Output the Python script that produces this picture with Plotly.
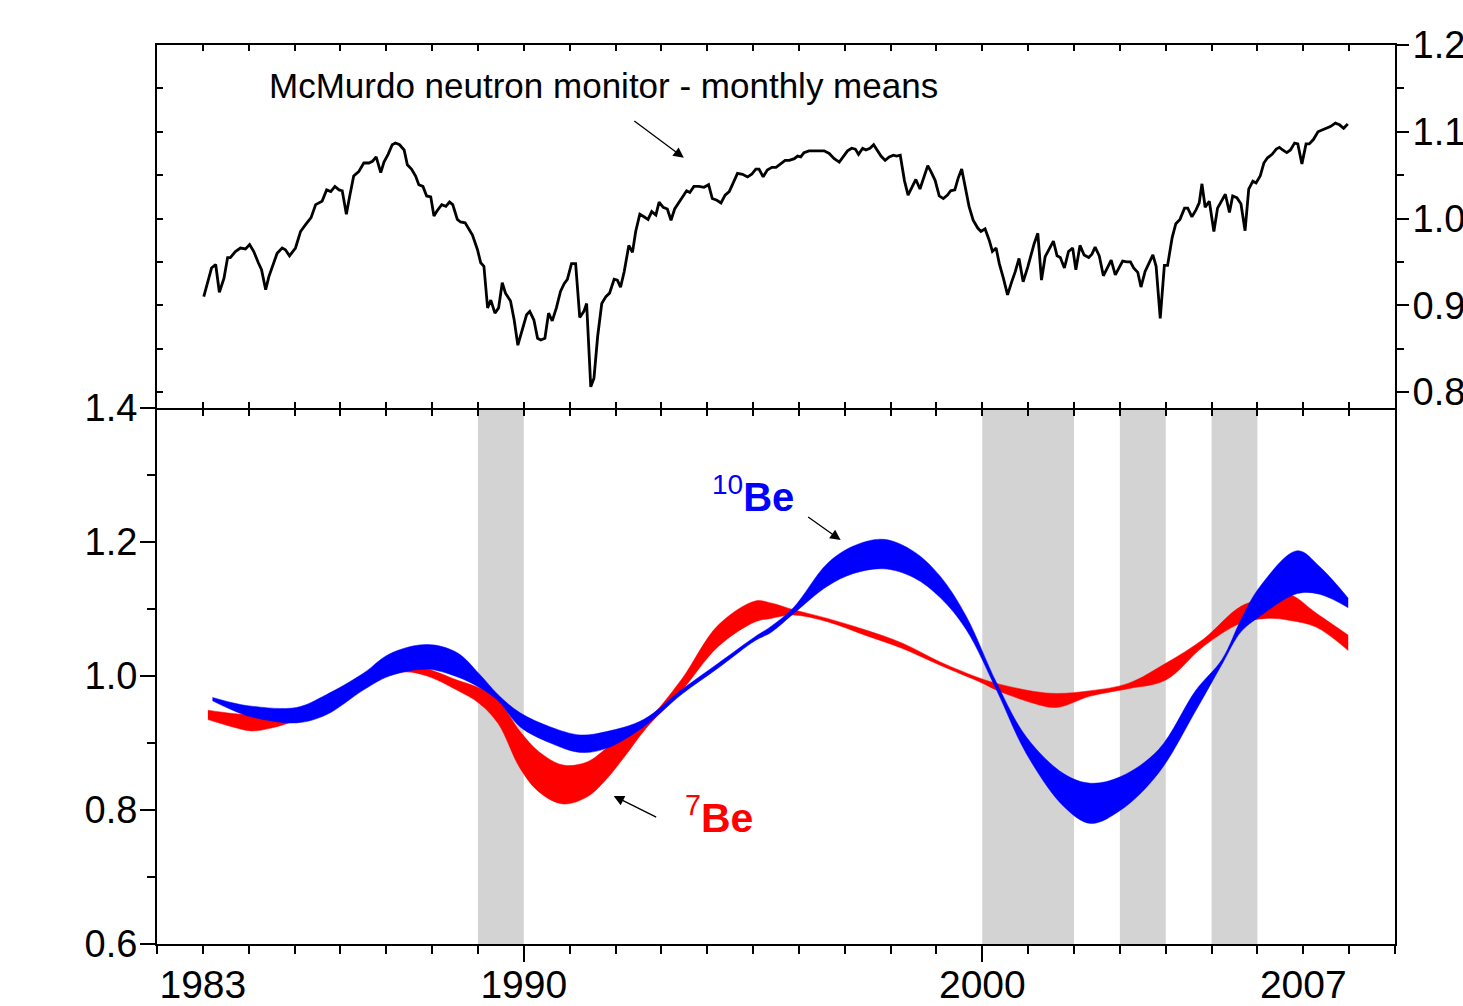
import plotly.graph_objects as go

FONT = "Liberation Sans, Arial, sans-serif"

# ---------------- McMurdo neutron monitor (monthly means, top panel) ----------------
NM_YEAR = [
    1983.02, 1983.19, 1983.28, 1983.36, 1983.46, 1983.54, 1983.60, 1983.71, 1983.82, 1983.93,
    1984.02, 1984.11, 1984.21, 1984.28, 1984.37, 1984.44, 1984.62, 1984.73, 1984.80, 1984.89,
    1985.02, 1985.13, 1985.24, 1985.36, 1985.46, 1985.60, 1985.70, 1985.79, 1985.88, 1985.97,
    1986.04, 1986.13, 1986.20, 1986.29, 1986.40, 1986.51, 1986.62, 1986.70, 1986.78, 1986.88,
    1986.95, 1987.04, 1987.13, 1987.20, 1987.29, 1987.39, 1987.46, 1987.55, 1987.64, 1987.71,
    1987.80, 1987.88, 1987.97, 1988.04, 1988.11, 1988.21, 1988.30, 1988.38, 1988.45, 1988.55,
    1988.62, 1988.72, 1988.88, 1988.99, 1989.06, 1989.13, 1989.21, 1989.28, 1989.37, 1989.45,
    1989.53, 1989.60, 1989.71, 1989.79, 1989.87, 1989.97, 1990.06, 1990.13, 1990.22, 1990.30,
    1990.37, 1990.46, 1990.54, 1990.62, 1990.71, 1990.80, 1990.88, 1990.95, 1991.04, 1991.13,
    1991.22, 1991.31, 1991.37, 1991.46, 1991.53, 1991.61, 1991.70, 1991.79, 1991.87, 1991.97,
    1992.04, 1992.11, 1992.19, 1992.29, 1992.37, 1992.44, 1992.53, 1992.62, 1992.71, 1992.79,
    1992.88, 1992.95, 1993.04, 1993.13, 1993.21, 1993.29, 1993.39, 1993.47, 1993.55, 1993.62,
    1993.71, 1993.82, 1993.93, 1994.03, 1994.11, 1994.21, 1994.30, 1994.39, 1994.48, 1994.55,
    1994.66, 1994.77, 1994.88, 1994.97, 1995.06, 1995.13, 1995.22, 1995.31, 1995.41, 1995.50,
    1995.61, 1995.70, 1995.79, 1995.90, 1995.97, 1996.04, 1996.11, 1996.22, 1996.33, 1996.44,
    1996.55, 1996.66, 1996.77, 1996.88, 1996.96, 1997.06, 1997.15, 1997.23, 1997.30, 1997.39,
    1997.46, 1997.55, 1997.63, 1997.72, 1997.79, 1997.88, 1997.97, 1998.06, 1998.13, 1998.21,
    1998.30, 1998.38, 1998.46, 1998.55, 1998.64, 1998.72, 1998.81, 1998.88, 1998.97, 1999.06,
    1999.15, 1999.24, 1999.31, 1999.40, 1999.47, 1999.55, 1999.63, 1999.71, 1999.80, 1999.90,
    1999.97, 2000.06, 2000.15, 2000.22, 2000.30, 2000.37, 2000.46, 2000.55, 2000.64, 2000.72,
    2000.80, 2000.89, 2000.99, 2001.06, 2001.13, 2001.21, 2001.29, 2001.37, 2001.46, 2001.55,
    2001.63, 2001.70, 2001.79, 2001.88, 2001.97, 2002.04, 2002.13, 2002.22, 2002.32, 2002.39,
    2002.46, 2002.55, 2002.64, 2002.72, 2002.81, 2002.90, 2002.99, 2003.06, 2003.15, 2003.23,
    2003.30, 2003.39, 2003.46, 2003.55, 2003.63, 2003.72, 2003.79, 2003.88, 2003.97, 2004.04,
    2004.14, 2004.22, 2004.31, 2004.41, 2004.48, 2004.57, 2004.66, 2004.73, 2004.79, 2004.86,
    2004.95, 2005.05, 2005.13, 2005.23, 2005.30, 2005.39, 2005.46, 2005.55, 2005.64, 2005.73,
    2005.81, 2005.90, 2005.97, 2006.06, 2006.14, 2006.22, 2006.32, 2006.41, 2006.48, 2006.55,
    2006.64, 2006.72, 2006.81, 2006.88, 2006.97, 2007.06, 2007.13, 2007.22, 2007.32, 2007.41,
    2007.50, 2007.59, 2007.70, 2007.79, 2007.88, 2007.97,
]
NM_VALUE = [
    0.910, 0.943, 0.947, 0.915, 0.931, 0.955, 0.955, 0.962, 0.966, 0.965,
    0.970, 0.962, 0.949, 0.941, 0.918, 0.933, 0.960, 0.966, 0.964, 0.957,
    0.966, 0.985, 0.993, 1.001, 1.016, 1.020, 1.033, 1.031, 1.037, 1.033,
    1.032, 1.005, 1.025, 1.049, 1.054, 1.064, 1.064, 1.066, 1.071, 1.053,
    1.065, 1.074, 1.085, 1.087, 1.085, 1.079, 1.062, 1.057, 1.049, 1.039,
    1.037, 1.026, 1.025, 1.003, 1.009, 1.016, 1.014, 1.019, 1.016, 0.999,
    0.996, 0.995, 0.981, 0.964, 0.949, 0.945, 0.897, 0.906, 0.891, 0.897,
    0.926, 0.914, 0.905, 0.883, 0.854, 0.871, 0.889, 0.893, 0.883, 0.862,
    0.860, 0.862, 0.891, 0.882, 0.897, 0.916, 0.925, 0.930, 0.948, 0.948,
    0.886, 0.893, 0.902, 0.806, 0.816, 0.864, 0.902, 0.910, 0.914, 0.930,
    0.929, 0.921, 0.939, 0.969, 0.961, 0.985, 1.005, 1.002, 0.999, 1.008,
    1.004, 1.019, 1.013, 1.011, 0.998, 1.011, 1.019, 1.025, 1.032, 1.030,
    1.037, 1.037, 1.036, 1.039, 1.023, 1.021, 1.018, 1.027, 1.031, 1.039,
    1.052, 1.051, 1.048, 1.051, 1.057, 1.057, 1.048, 1.056, 1.059, 1.059,
    1.064, 1.067, 1.067, 1.069, 1.072, 1.071, 1.076, 1.078, 1.078, 1.078,
    1.078, 1.075, 1.069, 1.065, 1.071, 1.078, 1.081, 1.080, 1.074, 1.081,
    1.079, 1.081, 1.085, 1.078, 1.072, 1.067, 1.071, 1.073, 1.072, 1.073,
    1.044, 1.027, 1.035, 1.045, 1.034, 1.048, 1.061, 1.054, 1.044, 1.026,
    1.023, 1.027, 1.032, 1.033, 1.046, 1.057, 1.035, 1.014, 0.998, 0.989,
    0.985, 0.988, 0.975, 0.962, 0.966, 0.948, 0.931, 0.912, 0.927, 0.939,
    0.954, 0.927, 0.944, 0.958, 0.971, 0.983, 0.929, 0.956, 0.966, 0.974,
    0.957, 0.955, 0.943, 0.962, 0.966, 0.941, 0.969, 0.958, 0.955, 0.959,
    0.967, 0.957, 0.934, 0.943, 0.952, 0.935, 0.944, 0.951, 0.950, 0.950,
    0.943, 0.938, 0.921, 0.939, 0.948, 0.958, 0.945, 0.885, 0.946, 0.946,
    0.978, 0.994, 0.999, 1.012, 1.012, 1.002, 1.010, 1.018, 1.040, 1.013,
    1.020, 0.985, 1.012, 1.021, 1.028, 1.007, 1.026, 1.024, 1.017, 0.986,
    1.034, 1.043, 1.041, 1.049, 1.064, 1.070, 1.074, 1.080, 1.082, 1.079,
    1.076, 1.079, 1.087, 1.086, 1.063, 1.086, 1.086, 1.091, 1.100, 1.102,
    1.104, 1.106, 1.110, 1.108, 1.104, 1.109,
]

# ---------------- 7Be band (red, bottom panel) ----------------
BE7_YEAR = [1983.11, 1983.65, 1984.06, 1984.47, 1984.88, 1985.28, 1986.10, 1986.75, 1987.40, 1987.89,
            1988.54, 1989.03, 1989.44, 1989.92, 1990.33, 1990.86, 1991.39, 1991.80, 1992.20, 1992.69,
            1993.43, 1994.24, 1995.05, 1995.39, 1995.88, 1996.62, 1997.44, 1998.26, 1999.08, 1999.98,
            2000.31, 2001.13, 2001.62, 2002.36, 2003.18, 2004.00, 2004.82, 2005.64, 2006.21, 2006.71,
            2007.28, 2007.98]
BE7_UPPER = [0.949, 0.944, 0.942, 0.940, 0.942, 0.948, 0.984, 1.003, 1.011, 1.010,
             0.994, 0.982, 0.964, 0.917, 0.887, 0.867, 0.872, 0.892, 0.913, 0.934,
             0.994, 1.076, 1.112, 1.109, 1.099, 1.086, 1.069, 1.049, 1.021, 0.996,
             0.989, 0.977, 0.974, 0.978, 0.989, 1.019, 1.055, 1.104, 1.116, 1.121,
             1.094, 1.061]
BE7_LOWER = [0.935, 0.924, 0.918, 0.922, 0.930, 0.939, 0.972, 0.994, 1.006, 1.000,
             0.979, 0.959, 0.929, 0.862, 0.827, 0.809, 0.820, 0.846, 0.880, 0.924,
             0.977, 1.044, 1.081, 1.086, 1.091, 1.081, 1.061, 1.041, 1.016, 0.990,
             0.979, 0.959, 0.953, 0.970, 0.981, 0.994, 1.044, 1.079, 1.086, 1.083,
             1.073, 1.038]

# ---------------- 10Be band (blue, bottom panel) ----------------
BE10_YEAR = [1983.21, 1983.65, 1984.06, 1985.04, 1985.69, 1986.50, 1987.07, 1987.89, 1988.54, 1989.03,
             1989.44, 1989.92, 1990.58, 1991.23, 1991.80, 1992.61, 1993.43, 1994.24, 1995.05, 1995.39,
             1995.88, 1996.62, 1997.19, 1997.85, 1998.50, 1999.08, 1999.65, 2000.31, 2000.96, 2001.78,
             2002.36, 2003.02, 2003.84, 2004.66, 2005.23, 2005.64, 2006.05, 2006.87, 2007.36, 2007.98]
BE10_UPPER = [0.968, 0.960, 0.955, 0.953, 0.972, 1.004, 1.033, 1.047, 1.035, 1.003,
              0.972, 0.945, 0.924, 0.912, 0.917, 0.935, 0.979, 1.019, 1.059, 1.074,
              1.102, 1.168, 1.194, 1.204, 1.186, 1.149, 1.089, 0.990, 0.909, 0.854,
              0.840, 0.850, 0.890, 0.979, 1.025, 1.084, 1.133, 1.187, 1.163, 1.116]
BE10_LOWER = [0.963, 0.949, 0.939, 0.930, 0.942, 0.979, 1.000, 1.010, 0.999, 0.983,
              0.963, 0.924, 0.900, 0.886, 0.892, 0.924, 0.972, 1.012, 1.053, 1.065,
              1.093, 1.134, 1.153, 1.160, 1.147, 1.117, 1.069, 0.979, 0.884, 0.805,
              0.780, 0.800, 0.855, 0.949, 1.018, 1.066, 1.089, 1.123, 1.122, 1.102]

# ---------------- grey periods ----------------
GREY_START = [1989, 2000, 2003, 2005]
GREY_END = [1990, 2002, 2004, 2006]

X_LABEL_YEARS = [1983, 1990, 2000, 2007]
X_LONG_TICKS = [1990, 2000]

SPLIT = 0.5962  # boundary between the two panels (paper fraction)

fig = go.Figure()

RED = "#ff0000"
BLUE = "#0000ff"

fig.add_trace(go.Scatter(x=BE7_YEAR, y=BE7_LOWER, mode="lines",
                         line=dict(color=RED, width=0.5, shape="spline"),
                         xaxis="x", yaxis="y", showlegend=False, hoverinfo="skip"))
fig.add_trace(go.Scatter(x=BE7_YEAR, y=BE7_UPPER, mode="lines", fill="tonexty", fillcolor=RED,
                         line=dict(color=RED, width=0.5, shape="spline"),
                         xaxis="x", yaxis="y", showlegend=False, hoverinfo="skip"))
fig.add_trace(go.Scatter(x=BE10_YEAR, y=BE10_LOWER, mode="lines",
                         line=dict(color=BLUE, width=0.5, shape="spline"),
                         xaxis="x", yaxis="y", showlegend=False, hoverinfo="skip"))
fig.add_trace(go.Scatter(x=BE10_YEAR, y=BE10_UPPER, mode="lines", fill="tonexty", fillcolor=BLUE,
                         line=dict(color=BLUE, width=0.5, shape="spline"),
                         xaxis="x", yaxis="y", showlegend=False, hoverinfo="skip"))
fig.add_trace(go.Scatter(x=NM_YEAR, y=NM_VALUE, mode="lines",
                         line=dict(color="black", width=2.8),
                         xaxis="x2", yaxis="y2", showlegend=False))

# empty traces so that the decorative overlay axes get their own subplots
for xa, ya in [("x3", "y"), ("x4", "y"), ("x2", "y3")]:
    fig.add_trace(go.Scatter(x=[None], y=[None], mode="markers", xaxis=xa, yaxis=ya,
                             showlegend=False, hoverinfo="skip"))

shapes = []
for s, e in zip(GREY_START, GREY_END):
    shapes.append(dict(type="rect", xref="x", yref="y domain", x0=s, x1=e, y0=0, y1=1,
                       fillcolor="#d3d3d3", line=dict(width=0), layer="below"))

XR = [1982, 2009]
Y2R = [0.7816, 1.2]
axis_common = dict(showgrid=False, zeroline=False, linecolor="black", tickcolor="black",
                   automargin=False)

fig.update_layout(
    width=1463, height=1006,
    margin=dict(l=157, r=68, t=45, b=62),
    paper_bgcolor="white", plot_bgcolor="rgba(0,0,0,0)",
    font=dict(family=FONT, color="black", size=38),
    showlegend=False,
    shapes=shapes,
    xaxis=dict(domain=[0, 1], range=XR, anchor="y", tickmode="array",
               tickvals=X_LABEL_YEARS, ticktext=[str(v) for v in X_LABEL_YEARS],
               ticks="outside", ticklen=8, tickwidth=2, showline=True, linewidth=2,
               ticklabelstandoff=-3,
               tickfont=dict(size=39, family=FONT, color="black"),
               minor=dict(ticks="outside", ticklen=8, tickwidth=2, tickcolor="black",
                          tick0=1982, dtick=1, showgrid=False),
               **axis_common),
    xaxis3=dict(overlaying="x", anchor="y", side="bottom", range=XR,
                tickmode="array", tickvals=X_LONG_TICKS, ticks="outside", ticklen=17,
                tickwidth=2, showticklabels=False, showline=False, **axis_common),
    xaxis4=dict(overlaying="x", anchor="y", side="top", range=XR,
                tickmode="linear", tick0=1982, dtick=1, ticks="inside", ticklen=8,
                tickwidth=2, showticklabels=False, showline=False, **axis_common),
    xaxis2=dict(domain=[0, 1], anchor="y2", range=XR, tickmode="linear",
                tick0=1982, dtick=1, ticks="inside", ticklen=6, tickwidth=2, mirror="ticks",
                showticklabels=False, showline=True, linewidth=2, **axis_common),
    yaxis=dict(domain=[0, SPLIT], anchor="x", range=[0.6, 1.4], tickmode="linear",
               tick0=0.6, dtick=0.2, tickformat=".1f", ticks="outside", ticklen=15,
               tickwidth=2, showline=True, linewidth=2, mirror=True,
               ticklabelstandoff=-5,
               tickfont=dict(size=38, family=FONT, color="black"),
               minor=dict(ticks="outside", ticklen=8, tickwidth=2, tickcolor="black",
                          tick0=0.6, dtick=0.1, showgrid=False),
               **axis_common),
    yaxis2=dict(domain=[SPLIT, 1], anchor="x2", side="right", range=Y2R,
                tickmode="linear", tick0=0.8, dtick=0.1, tickformat=".1f", ticks="outside",
                ticklen=12, tickwidth=2, showline=True, linewidth=2,
                ticklabelstandoff=-4,
                tickfont=dict(size=38, family=FONT, color="black"),
                minor=dict(ticks="outside", ticklen=7, tickwidth=2, tickcolor="black",
                           tick0=0.8, dtick=0.05, showgrid=False),
                **axis_common),
    yaxis3=dict(domain=[SPLIT, 1], overlaying="y2", anchor="x2", side="left", range=Y2R,
                tickmode="linear", tick0=0.8, dtick=0.05, ticks="inside", ticklen=6,
                tickwidth=2, showticklabels=False, showline=True, linewidth=2, **axis_common),
)

annotations = [
    dict(text="McMurdo neutron monitor - monthly means", xref="x2", yref="y2",
         x=1984.40, y=1.153, xanchor="left", yanchor="middle", showarrow=False,
         font=dict(size=35, family=FONT, color="black")),
    dict(text="", xref="x2", yref="y2", x=1993.49, y=1.070, ax=-51, ay=-38,
         showarrow=True, arrowhead=2, arrowsize=1.6, arrowwidth=1.3, arrowcolor="black"),
    dict(text="<sup>10</sup><b>Be</b>", xref="x", yref="y", x=1994.05, y=1.272,
         xanchor="left", yanchor="middle", showarrow=False,
         font=dict(size=40, family=FONT, color=BLUE)),
    dict(text="", xref="x", yref="y", x=1996.91, y=1.203, ax=-34, ay=-24,
         showarrow=True, arrowhead=2, arrowsize=1.6, arrowwidth=1.3, arrowcolor="black"),
    dict(text="<sup>7</sup><b>Be</b>", xref="x", yref="y", x=1993.47, y=0.793,
         xanchor="left", yanchor="middle", showarrow=False,
         font=dict(size=41, family=FONT, color=RED)),
    dict(text="", xref="x", yref="y", x=1991.96, y=0.821, ax=44, ay=22,
         showarrow=True, arrowhead=2, arrowsize=1.6, arrowwidth=1.3, arrowcolor="black"),
]
fig.update_layout(annotations=annotations)

fig.write_html("out.html")
